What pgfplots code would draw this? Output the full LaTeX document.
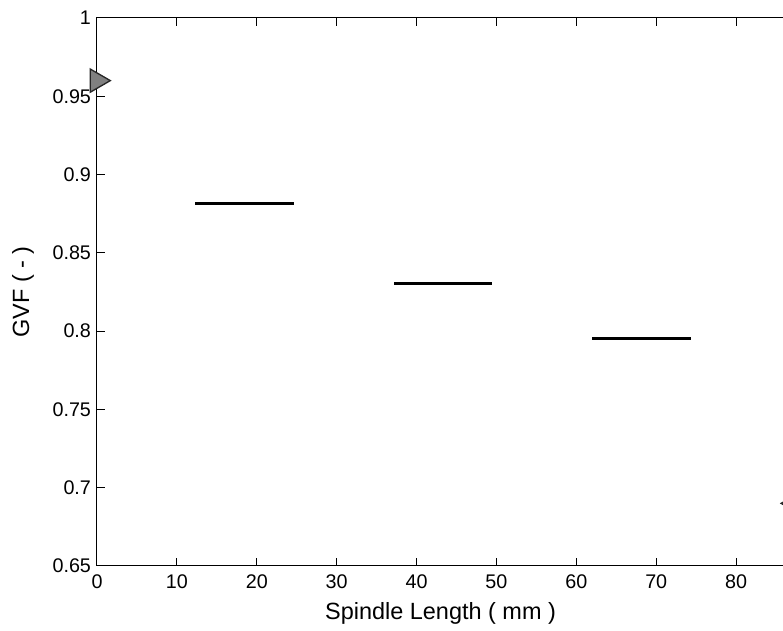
\documentclass[border=0pt]{standalone}
\usepackage{fontspec}
\setmainfont{Liberation Sans}
\usepackage{pgfplots}
\pgfplotsset{compat=1.18}
\begin{document}
\begin{tikzpicture}
\begin{scope}
\clip (-72.75pt,-48.75pt) rectangle (514.5pt,424.5pt);
\begin{axis}[
  at={(0pt,0pt)}, anchor=south west,
  scale only axis, width=515.3pt, height=411pt,
  xmin=0, xmax=86, ymin=0.65, ymax=1,
  clip=false,
  axis line style={line width=0.75pt, black},
  xtick={0,10,20,30,40,50,60,70,80},
  ytick={0.65,0.7,0.75,0.8,0.85,0.9,0.95,1},
  yticklabels={0.65,0.7,0.75,0.8,0.85,0.9,0.95,1},
  tick align=inside, major tick length=6pt,
  tick style={line width=0.75pt, black},
  xtick pos=both, ytick pos=left,
  /pgf/number format/assume math mode=true,
  tick label style={font=\fontsize{14.8}{16}\selectfont},
  xticklabel style={yshift=-3pt},
  yticklabel style={xshift=-1pt},
  xlabel={Spindle Length ( mm )},
  ylabel={GVF ( - )},
  label style={font=\fontsize{17.6}{20}\selectfont},
  xlabel style={at={(axis description cs:0.5,-0.0858)}, anchor=center},
  ylabel style={at={(axis description cs:-0.1077,0.5)}, anchor=center},
]
\addplot[black, line width=2.2pt] coordinates {(12.3,0.8814) (24.7,0.8814)};
\addplot[black, line width=2.2pt] coordinates {(37.2,0.8303) (49.5,0.8303)};
\addplot[black, line width=2.2pt] coordinates {(62.0,0.7952) (74.3,0.7952)};
\addplot[only marks, mark=triangle*, mark size=10pt,
  mark options={rotate=-90, fill=gray, draw=black!85, line width=1pt}]
  coordinates {(0,0.96)};
\addplot[only marks, mark=triangle*, mark size=10pt,
  mark options={rotate=90, fill=gray, draw=black!85, line width=1pt}]
  coordinates {(87.3,0.69)};
\end{axis}
\end{scope}
\pgfresetboundingbox
\path[use as bounding box] (-72.75pt,-48.75pt) rectangle (514.5pt,424.5pt);
\end{tikzpicture}
\end{document}
